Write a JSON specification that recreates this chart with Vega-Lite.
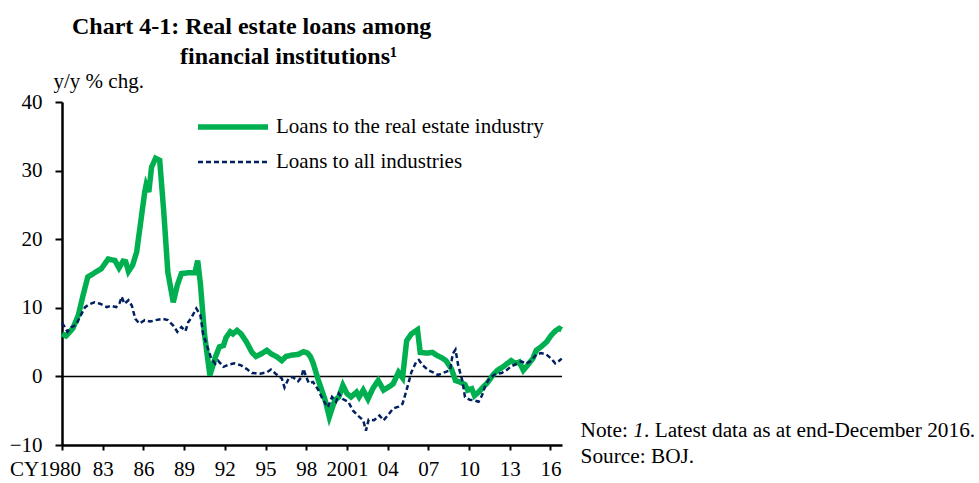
{
  "$schema": "https://vega.github.io/schema/vega-lite/v6.json",
  "width": 500,
  "height": 343,
  "autosize": {"type": "none"},
  "padding": {"left": 62, "top": 102, "right": 417, "bottom": 38},
  "background": "white",
  "title": {
    "text": "Chart 4-1: Real estate loans among",
    "subtitle": "\u200b\u00a0\u00a0\u00a0\u00a0\u00a0\u00a0\u00a0\u00a0\u00a0\u00a0\u00a0\u00a0\u00a0\u00a0\u00a0\u00a0\u00a0\u00a0financial institutions\u00b9",
    "anchor": "start",
    "frame": "group",
    "dx": 10,
    "offset": 1,
    "font": "Liberation Serif",
    "fontSize": 24,
    "fontWeight": "bold",
    "color": "black",
    "subtitleFont": "Liberation Serif",
    "subtitleFontSize": 24,
    "subtitleFontWeight": "bold",
    "subtitleColor": "black",
    "subtitlePadding": 6
  },
  "config": {
    "view": {"stroke": null},
    "font": "Liberation Serif",
    "axis": {
      "labelFont": "Liberation Serif",
      "labelFontSize": 21,
      "labelColor": "black",
      "titleFont": "Liberation Serif",
      "titleFontSize": 21,
      "titleFontWeight": "normal",
      "titleColor": "black",
      "domainColor": "black",
      "domainWidth": 2.5,
      "tickColor": "black",
      "tickWidth": 2,
      "grid": false
    }
  },
  "data": {
    "values": [
      {"t": 1980.0, "v": 6.2, "s": "Loans to the real estate industry"},
      {"t": 1980.3, "v": 5.9, "s": "Loans to the real estate industry"},
      {"t": 1980.8, "v": 7.0, "s": "Loans to the real estate industry"},
      {"t": 1981.2, "v": 8.9, "s": "Loans to the real estate industry"},
      {"t": 1981.55, "v": 11.8, "s": "Loans to the real estate industry"},
      {"t": 1981.9, "v": 14.5, "s": "Loans to the real estate industry"},
      {"t": 1982.4, "v": 15.1, "s": "Loans to the real estate industry"},
      {"t": 1982.9, "v": 15.7, "s": "Loans to the real estate industry"},
      {"t": 1983.4, "v": 17.1, "s": "Loans to the real estate industry"},
      {"t": 1983.9, "v": 16.9, "s": "Loans to the real estate industry"},
      {"t": 1984.2, "v": 15.8, "s": "Loans to the real estate industry"},
      {"t": 1984.5, "v": 16.8, "s": "Loans to the real estate industry"},
      {"t": 1984.7, "v": 16.7, "s": "Loans to the real estate industry"},
      {"t": 1984.9, "v": 15.3, "s": "Loans to the real estate industry"},
      {"t": 1985.2, "v": 16.2, "s": "Loans to the real estate industry"},
      {"t": 1985.5, "v": 18.1, "s": "Loans to the real estate industry"},
      {"t": 1985.8, "v": 22.5, "s": "Loans to the real estate industry"},
      {"t": 1986.1, "v": 26.9, "s": "Loans to the real estate industry"},
      {"t": 1986.2, "v": 27.9, "s": "Loans to the real estate industry"},
      {"t": 1986.4, "v": 26.9, "s": "Loans to the real estate industry"},
      {"t": 1986.6, "v": 30.5, "s": "Loans to the real estate industry"},
      {"t": 1986.9, "v": 31.8, "s": "Loans to the real estate industry"},
      {"t": 1987.2, "v": 31.5, "s": "Loans to the real estate industry"},
      {"t": 1987.5, "v": 24.0, "s": "Loans to the real estate industry"},
      {"t": 1987.8, "v": 15.2, "s": "Loans to the real estate industry"},
      {"t": 1988.2, "v": 10.8, "s": "Loans to the real estate industry"},
      {"t": 1988.5, "v": 13.3, "s": "Loans to the real estate industry"},
      {"t": 1988.8, "v": 15.0, "s": "Loans to the real estate industry"},
      {"t": 1989.3, "v": 15.1, "s": "Loans to the real estate industry"},
      {"t": 1989.8, "v": 15.1, "s": "Loans to the real estate industry"},
      {"t": 1990.0, "v": 16.9, "s": "Loans to the real estate industry"},
      {"t": 1990.2, "v": 13.5, "s": "Loans to the real estate industry"},
      {"t": 1990.5, "v": 6.2, "s": "Loans to the real estate industry"},
      {"t": 1990.9, "v": 0.15, "s": "Loans to the real estate industry"},
      {"t": 1991.3, "v": 2.8, "s": "Loans to the real estate industry"},
      {"t": 1991.6, "v": 4.3, "s": "Loans to the real estate industry"},
      {"t": 1991.9, "v": 4.5, "s": "Loans to the real estate industry"},
      {"t": 1992.1, "v": 5.7, "s": "Loans to the real estate industry"},
      {"t": 1992.4, "v": 6.5, "s": "Loans to the real estate industry"},
      {"t": 1992.6, "v": 6.2, "s": "Loans to the real estate industry"},
      {"t": 1992.9, "v": 6.7, "s": "Loans to the real estate industry"},
      {"t": 1993.2, "v": 6.2, "s": "Loans to the real estate industry"},
      {"t": 1993.6, "v": 5.0, "s": "Loans to the real estate industry"},
      {"t": 1994.0, "v": 3.5, "s": "Loans to the real estate industry"},
      {"t": 1994.3, "v": 2.9, "s": "Loans to the real estate industry"},
      {"t": 1994.7, "v": 3.3, "s": "Loans to the real estate industry"},
      {"t": 1995.1, "v": 3.8, "s": "Loans to the real estate industry"},
      {"t": 1995.4, "v": 3.3, "s": "Loans to the real estate industry"},
      {"t": 1995.8, "v": 2.9, "s": "Loans to the real estate industry"},
      {"t": 1996.2, "v": 2.3, "s": "Loans to the real estate industry"},
      {"t": 1996.5, "v": 2.9, "s": "Loans to the real estate industry"},
      {"t": 1996.9, "v": 3.1, "s": "Loans to the real estate industry"},
      {"t": 1997.4, "v": 3.2, "s": "Loans to the real estate industry"},
      {"t": 1997.8, "v": 3.6, "s": "Loans to the real estate industry"},
      {"t": 1998.1, "v": 3.4, "s": "Loans to the real estate industry"},
      {"t": 1998.3, "v": 2.9, "s": "Loans to the real estate industry"},
      {"t": 1998.5, "v": 2.0, "s": "Loans to the real estate industry"},
      {"t": 1998.9, "v": -0.6, "s": "Loans to the real estate industry"},
      {"t": 1999.4, "v": -3.5, "s": "Loans to the real estate industry"},
      {"t": 1999.7, "v": -5.9, "s": "Loans to the real estate industry"},
      {"t": 2000.1, "v": -3.5, "s": "Loans to the real estate industry"},
      {"t": 2000.4, "v": -3.0, "s": "Loans to the real estate industry"},
      {"t": 2000.7, "v": -1.3, "s": "Loans to the real estate industry"},
      {"t": 2001.0, "v": -2.5, "s": "Loans to the real estate industry"},
      {"t": 2001.3, "v": -3.0, "s": "Loans to the real estate industry"},
      {"t": 2001.7, "v": -2.3, "s": "Loans to the real estate industry"},
      {"t": 2001.9, "v": -3.0, "s": "Loans to the real estate industry"},
      {"t": 2002.2, "v": -2.0, "s": "Loans to the real estate industry"},
      {"t": 2002.55, "v": -3.3, "s": "Loans to the real estate industry"},
      {"t": 2002.9, "v": -1.8, "s": "Loans to the real estate industry"},
      {"t": 2003.3, "v": -0.6, "s": "Loans to the real estate industry"},
      {"t": 2003.7, "v": -2.0, "s": "Loans to the real estate industry"},
      {"t": 2004.0, "v": -1.65, "s": "Loans to the real estate industry"},
      {"t": 2004.4, "v": -1.1, "s": "Loans to the real estate industry"},
      {"t": 2004.8, "v": 0.6, "s": "Loans to the real estate industry"},
      {"t": 2005.1, "v": -0.2, "s": "Loans to the real estate industry"},
      {"t": 2005.4, "v": 5.2, "s": "Loans to the real estate industry"},
      {"t": 2005.75, "v": 6.2, "s": "Loans to the real estate industry"},
      {"t": 2006.2, "v": 6.8, "s": "Loans to the real estate industry"},
      {"t": 2006.4, "v": 3.5, "s": "Loans to the real estate industry"},
      {"t": 2006.9, "v": 3.4, "s": "Loans to the real estate industry"},
      {"t": 2007.3, "v": 3.5, "s": "Loans to the real estate industry"},
      {"t": 2007.6, "v": 3.1, "s": "Loans to the real estate industry"},
      {"t": 2008.0, "v": 2.7, "s": "Loans to the real estate industry"},
      {"t": 2008.3, "v": 2.3, "s": "Loans to the real estate industry"},
      {"t": 2008.7, "v": 1.1, "s": "Loans to the real estate industry"},
      {"t": 2009.0, "v": -0.6, "s": "Loans to the real estate industry"},
      {"t": 2009.3, "v": -0.8, "s": "Loans to the real estate industry"},
      {"t": 2009.7, "v": -1.2, "s": "Loans to the real estate industry"},
      {"t": 2009.9, "v": -2.0, "s": "Loans to the real estate industry"},
      {"t": 2010.2, "v": -1.8, "s": "Loans to the real estate industry"},
      {"t": 2010.4, "v": -2.8, "s": "Loans to the real estate industry"},
      {"t": 2010.7, "v": -2.3, "s": "Loans to the real estate industry"},
      {"t": 2011.0, "v": -1.65, "s": "Loans to the real estate industry"},
      {"t": 2011.4, "v": -0.8, "s": "Loans to the real estate industry"},
      {"t": 2011.8, "v": 0.3, "s": "Loans to the real estate industry"},
      {"t": 2012.1, "v": 0.9, "s": "Loans to the real estate industry"},
      {"t": 2012.5, "v": 1.4, "s": "Loans to the real estate industry"},
      {"t": 2012.8, "v": 1.85, "s": "Loans to the real estate industry"},
      {"t": 2013.1, "v": 2.3, "s": "Loans to the real estate industry"},
      {"t": 2013.4, "v": 1.9, "s": "Loans to the real estate industry"},
      {"t": 2013.7, "v": 2.1, "s": "Loans to the real estate industry"},
      {"t": 2014.0, "v": 0.9, "s": "Loans to the real estate industry"},
      {"t": 2014.3, "v": 1.6, "s": "Loans to the real estate industry"},
      {"t": 2014.7, "v": 2.6, "s": "Loans to the real estate industry"},
      {"t": 2014.95, "v": 3.8, "s": "Loans to the real estate industry"},
      {"t": 2015.3, "v": 4.3, "s": "Loans to the real estate industry"},
      {"t": 2015.7, "v": 5.0, "s": "Loans to the real estate industry"},
      {"t": 2016.06, "v": 6.0, "s": "Loans to the real estate industry"},
      {"t": 2016.4, "v": 6.7, "s": "Loans to the real estate industry"},
      {"t": 2016.65, "v": 7.0, "s": "Loans to the real estate industry"},
      {"t": 2016.83, "v": 6.8, "s": "Loans to the real estate industry"},
      {"t": 1980.0, "v": 7.8, "s": "Loans to all industries"},
      {"t": 1980.2, "v": 7.2, "s": "Loans to all industries"},
      {"t": 1980.4, "v": 6.5, "s": "Loans to all industries"},
      {"t": 1980.7, "v": 7.2, "s": "Loans to all industries"},
      {"t": 1981.05, "v": 7.5, "s": "Loans to all industries"},
      {"t": 1981.3, "v": 8.6, "s": "Loans to all industries"},
      {"t": 1981.7, "v": 10.1, "s": "Loans to all industries"},
      {"t": 1982.0, "v": 10.5, "s": "Loans to all industries"},
      {"t": 1982.4, "v": 10.8, "s": "Loans to all industries"},
      {"t": 1982.8, "v": 10.6, "s": "Loans to all industries"},
      {"t": 1983.3, "v": 10.1, "s": "Loans to all industries"},
      {"t": 1983.6, "v": 10.3, "s": "Loans to all industries"},
      {"t": 1984.0, "v": 10.1, "s": "Loans to all industries"},
      {"t": 1984.25, "v": 10.7, "s": "Loans to all industries"},
      {"t": 1984.4, "v": 11.6, "s": "Loans to all industries"},
      {"t": 1984.6, "v": 10.6, "s": "Loans to all industries"},
      {"t": 1984.9, "v": 11.1, "s": "Loans to all industries"},
      {"t": 1985.15, "v": 10.3, "s": "Loans to all industries"},
      {"t": 1985.4, "v": 8.4, "s": "Loans to all industries"},
      {"t": 1985.7, "v": 7.7, "s": "Loans to all industries"},
      {"t": 1986.1, "v": 8.2, "s": "Loans to all industries"},
      {"t": 1986.5, "v": 8.0, "s": "Loans to all industries"},
      {"t": 1986.9, "v": 8.2, "s": "Loans to all industries"},
      {"t": 1987.4, "v": 8.4, "s": "Loans to all industries"},
      {"t": 1987.8, "v": 8.2, "s": "Loans to all industries"},
      {"t": 1988.2, "v": 7.4, "s": "Loans to all industries"},
      {"t": 1988.5, "v": 6.5, "s": "Loans to all industries"},
      {"t": 1988.8, "v": 7.2, "s": "Loans to all industries"},
      {"t": 1989.1, "v": 6.6, "s": "Loans to all industries"},
      {"t": 1989.3, "v": 7.9, "s": "Loans to all industries"},
      {"t": 1989.55, "v": 8.6, "s": "Loans to all industries"},
      {"t": 1989.9, "v": 9.9, "s": "Loans to all industries"},
      {"t": 1990.2, "v": 8.9, "s": "Loans to all industries"},
      {"t": 1990.4, "v": 6.2, "s": "Loans to all industries"},
      {"t": 1990.8, "v": 3.8, "s": "Loans to all industries"},
      {"t": 1991.0, "v": 2.6, "s": "Loans to all industries"},
      {"t": 1991.3, "v": 1.85, "s": "Loans to all industries"},
      {"t": 1991.5, "v": 2.3, "s": "Loans to all industries"},
      {"t": 1991.9, "v": 1.4, "s": "Loans to all industries"},
      {"t": 1992.25, "v": 1.7, "s": "Loans to all industries"},
      {"t": 1992.7, "v": 1.9, "s": "Loans to all industries"},
      {"t": 1993.2, "v": 1.6, "s": "Loans to all industries"},
      {"t": 1993.6, "v": 1.1, "s": "Loans to all industries"},
      {"t": 1994.0, "v": 0.5, "s": "Loans to all industries"},
      {"t": 1994.6, "v": 0.4, "s": "Loans to all industries"},
      {"t": 1995.1, "v": 0.6, "s": "Loans to all industries"},
      {"t": 1995.4, "v": 1.0, "s": "Loans to all industries"},
      {"t": 1995.8, "v": 0.3, "s": "Loans to all industries"},
      {"t": 1996.2, "v": -0.3, "s": "Loans to all industries"},
      {"t": 1996.4, "v": -1.6, "s": "Loans to all industries"},
      {"t": 1996.7, "v": -0.3, "s": "Loans to all industries"},
      {"t": 1997.0, "v": -0.1, "s": "Loans to all industries"},
      {"t": 1997.4, "v": -0.7, "s": "Loans to all industries"},
      {"t": 1997.65, "v": -0.1, "s": "Loans to all industries"},
      {"t": 1997.8, "v": 1.1, "s": "Loans to all industries"},
      {"t": 1998.0, "v": -0.1, "s": "Loans to all industries"},
      {"t": 1998.2, "v": -1.0, "s": "Loans to all industries"},
      {"t": 1998.5, "v": -0.8, "s": "Loans to all industries"},
      {"t": 1998.9, "v": -2.0, "s": "Loans to all industries"},
      {"t": 1999.2, "v": -3.3, "s": "Loans to all industries"},
      {"t": 1999.6, "v": -4.5, "s": "Loans to all industries"},
      {"t": 1999.9, "v": -3.0, "s": "Loans to all industries"},
      {"t": 2000.2, "v": -3.7, "s": "Loans to all industries"},
      {"t": 2000.4, "v": -2.5, "s": "Loans to all industries"},
      {"t": 2000.7, "v": -3.3, "s": "Loans to all industries"},
      {"t": 2001.1, "v": -3.7, "s": "Loans to all industries"},
      {"t": 2001.45, "v": -5.0, "s": "Loans to all industries"},
      {"t": 2001.8, "v": -5.7, "s": "Loans to all industries"},
      {"t": 2002.2, "v": -6.4, "s": "Loans to all industries"},
      {"t": 2002.4, "v": -7.9, "s": "Loans to all industries"},
      {"t": 2002.6, "v": -6.3, "s": "Loans to all industries"},
      {"t": 2003.0, "v": -6.4, "s": "Loans to all industries"},
      {"t": 2003.4, "v": -5.7, "s": "Loans to all industries"},
      {"t": 2003.7, "v": -6.4, "s": "Loans to all industries"},
      {"t": 2004.0, "v": -5.7, "s": "Loans to all industries"},
      {"t": 2004.4, "v": -4.7, "s": "Loans to all industries"},
      {"t": 2004.8, "v": -4.4, "s": "Loans to all industries"},
      {"t": 2005.1, "v": -4.0, "s": "Loans to all industries"},
      {"t": 2005.45, "v": -1.6, "s": "Loans to all industries"},
      {"t": 2005.75, "v": 0.6, "s": "Loans to all industries"},
      {"t": 2006.1, "v": 2.1, "s": "Loans to all industries"},
      {"t": 2006.3, "v": 2.4, "s": "Loans to all industries"},
      {"t": 2006.6, "v": 1.6, "s": "Loans to all industries"},
      {"t": 2007.0, "v": 0.9, "s": "Loans to all industries"},
      {"t": 2007.35, "v": 0.6, "s": "Loans to all industries"},
      {"t": 2007.7, "v": 0.2, "s": "Loans to all industries"},
      {"t": 2008.2, "v": 0.6, "s": "Loans to all industries"},
      {"t": 2008.6, "v": 0.9, "s": "Loans to all industries"},
      {"t": 2008.8, "v": 3.3, "s": "Loans to all industries"},
      {"t": 2009.0, "v": 3.9, "s": "Loans to all industries"},
      {"t": 2009.2, "v": 1.6, "s": "Loans to all industries"},
      {"t": 2009.5, "v": -0.6, "s": "Loans to all industries"},
      {"t": 2009.7, "v": -3.0, "s": "Loans to all industries"},
      {"t": 2010.05, "v": -3.4, "s": "Loans to all industries"},
      {"t": 2010.4, "v": -3.5, "s": "Loans to all industries"},
      {"t": 2010.7, "v": -3.7, "s": "Loans to all industries"},
      {"t": 2010.95, "v": -2.8, "s": "Loans to all industries"},
      {"t": 2011.2, "v": -1.3, "s": "Loans to all industries"},
      {"t": 2011.5, "v": -0.3, "s": "Loans to all industries"},
      {"t": 2011.9, "v": 0.3, "s": "Loans to all industries"},
      {"t": 2012.4, "v": 0.5, "s": "Loans to all industries"},
      {"t": 2012.75, "v": 0.9, "s": "Loans to all industries"},
      {"t": 2013.1, "v": 1.45, "s": "Loans to all industries"},
      {"t": 2013.5, "v": 1.85, "s": "Loans to all industries"},
      {"t": 2013.85, "v": 2.2, "s": "Loans to all industries"},
      {"t": 2014.2, "v": 1.85, "s": "Loans to all industries"},
      {"t": 2014.6, "v": 2.3, "s": "Loans to all industries"},
      {"t": 2014.95, "v": 3.2, "s": "Loans to all industries"},
      {"t": 2015.3, "v": 3.4, "s": "Loans to all industries"},
      {"t": 2015.7, "v": 3.2, "s": "Loans to all industries"},
      {"t": 2016.05, "v": 2.6, "s": "Loans to all industries"},
      {"t": 2016.35, "v": 1.9, "s": "Loans to all industries"},
      {"t": 2016.6, "v": 2.2, "s": "Loans to all industries"},
      {"t": 2016.83, "v": 2.6, "s": "Loans to all industries"}
    ]
  },
  "layer": [
    {
      "data": {"values": [{}]},
      "mark": {"type": "rule", "color": "black", "strokeWidth": 1.5},
      "encoding": {"y": {"datum": 0}}
    },
    {
      "mark": {"type": "line", "interpolate": "linear"},
      "encoding": {
        "x": {
          "field": "t",
          "type": "quantitative",
          "scale": {"domain": [1980, 2016.85], "nice": false, "zero": false},
          "axis": {
            "title": null,
            "values": [1980, 1983, 1986, 1989, 1992, 1995, 1998, 2001, 2004, 2007, 2010, 2013, 2016],
            "format": "d",
            "labelExpr": "datum.value == 1980 ? 'CY1980' : datum.value == 2001 ? '2001' : substring(datum.label, 2)",
            "labelFlush": false,
            "labelOverlap": false,
            "tickSize": 5,
            "labelPadding": 8,
            "labelOffset": {"condition": {"test": "datum.value == 1980", "value": -17}, "value": 0}
          }
        },
        "y": {
          "field": "v",
          "type": "quantitative",
          "scale": {"domain": [-10, 40], "nice": false, "zero": false},
          "axis": {
            "title": "y/y % chg.",
            "titleAngle": 0,
            "titleAlign": "left",
            "titleBaseline": "alphabetic",
            "titleX": -9,
            "titleY": -15,
            "values": [-10, 0, 10, 20, 30, 40],
            "labelOverlap": false,
            "tickSize": 7,
            "labelPadding": 13
          }
        },
        "color": {
          "field": "s",
          "type": "nominal",
          "scale": {"domain": ["Loans to the real estate industry", "Loans to all industries"], "range": ["#00B050", "#002060"]},
          "legend": {
            "title": null,
            "orient": "none",
            "legendX": 133,
            "legendY": 14,
            "symbolType": "stroke",
            "symbolSize": 4900,
            "clipHeight": 22,
            "labelFont": "Liberation Serif",
            "labelFontSize": 21,
            "labelColor": "black",
            "labelOffset": 5,
            "labelLimit": 500,
            "rowPadding": 13
          }
        },
        "strokeDash": {
          "field": "s",
          "type": "nominal",
          "scale": {"domain": ["Loans to the real estate industry", "Loans to all industries"], "range": [[1, 0], [5, 3]]},
          "legend": null
        },
        "strokeWidth": {
          "field": "s",
          "type": "nominal",
          "scale": {"domain": ["Loans to the real estate industry", "Loans to all industries"], "range": [5.5, 2.5]},
          "legend": null
        }
      }
    },
    {
      "data": {"values": [{}]},
      "mark": {"type": "text", "align": "left", "baseline": "alphabetic", "font": "Liberation Serif", "fontSize": 21.3, "color": "black"},
      "encoding": {"x": {"datum": 2018.22}, "y": {"datum": -8.8}, "text": {"value": "Note:"}}
    },
    {
      "data": {"values": [{}]},
      "mark": {"type": "text", "align": "left", "baseline": "alphabetic", "font": "Liberation Serif", "fontSize": 21.3, "fontStyle": "italic", "color": "black", "dx": 52.7},
      "encoding": {"x": {"datum": 2018.22}, "y": {"datum": -8.8}, "text": {"value": "1"}}
    },
    {
      "data": {"values": [{}]},
      "mark": {"type": "text", "align": "left", "baseline": "alphabetic", "font": "Liberation Serif", "fontSize": 21.3, "color": "black", "dx": 63.4},
      "encoding": {"x": {"datum": 2018.22}, "y": {"datum": -8.8}, "text": {"value": ". Latest data as at end-December 2016."}}
    },
    {
      "data": {"values": [{}]},
      "mark": {"type": "text", "align": "left", "baseline": "alphabetic", "font": "Liberation Serif", "fontSize": 21.3, "color": "black"},
      "encoding": {"x": {"datum": 2018.22}, "y": {"datum": -12.6}, "text": {"value": "Source: BOJ."}}
    }
  ]
}
